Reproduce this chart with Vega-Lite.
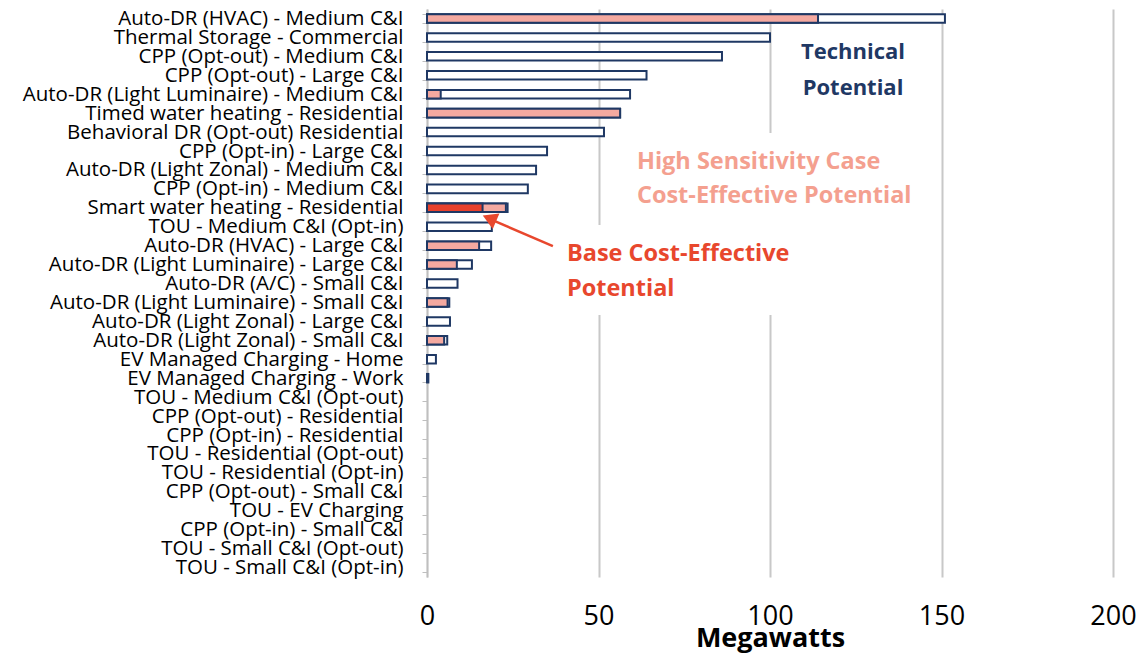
{
  "$schema": "https://vega.github.io/schema/vega-lite/v6.json",
  "width": 686,
  "height": 568,
  "autosize": {"type": "none"},
  "padding": {"left": 427, "top": 9, "right": 28, "bottom": 77},
  "background": "white",
  "config": {"view": {"stroke": null}, "font": "Open Sans"},
  "resolve": {"scale": {"y": "independent"}},
  "layer": [
    {
      "data": {"values": [
        {"program": "Auto-DR (HVAC) - Medium C&I", "technical": 151, "high": 114, "base": null},
        {"program": "Thermal Storage - Commercial", "technical": 100, "high": null, "base": null},
        {"program": "CPP (Opt-out) - Medium C&I", "technical": 86, "high": null, "base": null},
        {"program": "CPP (Opt-out) - Large C&I", "technical": 64, "high": null, "base": null},
        {"program": "Auto-DR (Light Luminaire) - Medium C&I", "technical": 59.2, "high": 4, "base": null},
        {"program": "Timed water heating - Residential", "technical": 56.3, "high": 56.3, "base": null},
        {"program": "Behavioral DR (Opt-out) Residential", "technical": 51.6, "high": null, "base": null},
        {"program": "CPP (Opt-in) - Large C&I", "technical": 35, "high": null, "base": null},
        {"program": "Auto-DR (Light Zonal) - Medium C&I", "technical": 31.8, "high": null, "base": null},
        {"program": "CPP (Opt-in) - Medium C&I", "technical": 29.4, "high": null, "base": null},
        {"program": "Smart water heating - Residential", "technical": 23.5, "high": 23, "base": 16.2},
        {"program": "TOU - Medium C&I (Opt-in)", "technical": 18.9, "high": null, "base": null},
        {"program": "Auto-DR (HVAC) - Large C&I", "technical": 18.7, "high": 15.2, "base": null},
        {"program": "Auto-DR (Light Luminaire) - Large C&I", "technical": 13.1, "high": 8.7, "base": null},
        {"program": "Auto-DR (A/C) - Small C&I", "technical": 8.9, "high": null, "base": null},
        {"program": "Auto-DR (Light Luminaire) - Small C&I", "technical": 6.5, "high": 6, "base": null},
        {"program": "Auto-DR (Light Zonal) - Large C&I", "technical": 6.7, "high": null, "base": null},
        {"program": "Auto-DR (Light Zonal) - Small C&I", "technical": 5.9, "high": 5, "base": null},
        {"program": "EV Managed Charging - Home", "technical": 2.6, "high": null, "base": null},
        {"program": "EV Managed Charging - Work", "technical": 0.4, "high": null, "base": null},
        {"program": "TOU - Medium C&I (Opt-out)", "technical": null, "high": null, "base": null},
        {"program": "CPP (Opt-out) - Residential", "technical": null, "high": null, "base": null},
        {"program": "CPP (Opt-in) - Residential", "technical": null, "high": null, "base": null},
        {"program": "TOU - Residential (Opt-out)", "technical": null, "high": null, "base": null},
        {"program": "TOU - Residential (Opt-in)", "technical": null, "high": null, "base": null},
        {"program": "CPP (Opt-out) - Small C&I", "technical": null, "high": null, "base": null},
        {"program": "TOU - EV Charging", "technical": null, "high": null, "base": null},
        {"program": "CPP (Opt-in) - Small C&I", "technical": null, "high": null, "base": null},
        {"program": "TOU - Small C&I (Opt-out)", "technical": null, "high": null, "base": null},
        {"program": "TOU - Small C&I (Opt-in)", "technical": null, "high": null, "base": null}
      ]},
      "encoding": {
        "y": {
          "field": "program", "type": "nominal", "sort": null,
          "scale": {
            "paddingInner": 0.55, "paddingOuter": 0.275,
            "domain": [
              "Auto-DR (HVAC) - Medium C&I", "Thermal Storage - Commercial", "CPP (Opt-out) - Medium C&I",
              "CPP (Opt-out) - Large C&I", "Auto-DR (Light Luminaire) - Medium C&I", "Timed water heating - Residential",
              "Behavioral DR (Opt-out) Residential", "CPP (Opt-in) - Large C&I", "Auto-DR (Light Zonal) - Medium C&I",
              "CPP (Opt-in) - Medium C&I", "Smart water heating - Residential", "TOU - Medium C&I (Opt-in)",
              "Auto-DR (HVAC) - Large C&I", "Auto-DR (Light Luminaire) - Large C&I", "Auto-DR (A/C) - Small C&I",
              "Auto-DR (Light Luminaire) - Small C&I", "Auto-DR (Light Zonal) - Large C&I", "Auto-DR (Light Zonal) - Small C&I",
              "EV Managed Charging - Home", "EV Managed Charging - Work", "TOU - Medium C&I (Opt-out)",
              "CPP (Opt-out) - Residential", "CPP (Opt-in) - Residential", "TOU - Residential (Opt-out)",
              "TOU - Residential (Opt-in)", "CPP (Opt-out) - Small C&I", "TOU - EV Charging",
              "CPP (Opt-in) - Small C&I", "TOU - Small C&I (Opt-out)", "TOU - Small C&I (Opt-in)"
            ]
          },
          "axis": {
            "title": null, "labelFontSize": 20.5, "labelColor": "#000000", "labelFont": "Open Sans",
            "labelLimit": 0, "labelPadding": 19, "tickSize": 5, "tickBand": "extent",
            "tickColor": "#bfbfbf", "domainColor": "#bfbfbf", "domainWidth": 1.5, "grid": false
          }
        }
      },
      "layer": [
        {
          "mark": {"type": "bar", "fill": "#ffffff", "stroke": "#1f3864", "strokeWidth": 2},
          "encoding": {
            "x": {
              "field": "technical", "type": "quantitative", "title": "Megawatts",
              "scale": {"domain": [0, 200], "nice": false},
              "axis": {
                "values": [0, 50, 100, 150, 200], "grid": true, "gridColor": "#c8c8c8", "gridWidth": 2,
                "domain": false, "ticks": false, "tickSize": 0, "labelFontSize": 27, "labelColor": "#000000",
                "labelFlush": false, "labelPadding": 26, "titleFontSize": 27, "titleFontWeight": "bold",
                "titleColor": "#000000", "titlePadding": -4
              }
            }
          }
        },
        {
          "mark": {"type": "bar", "fill": "#f4a9a0", "stroke": "#1f3864", "strokeWidth": 2},
          "encoding": {"x": {"field": "high", "type": "quantitative", "title": "Megawatts"}}
        },
        {
          "mark": {"type": "bar", "fill": "#e8412c", "stroke": "#1f3864", "strokeWidth": 2},
          "encoding": {"x": {"field": "base", "type": "quantitative", "title": "Megawatts"}}
        }
      ]
    },
    {
      "encoding": {
        "y": {"type": "quantitative", "scale": {"domain": [0, 30], "reverse": true, "nice": false, "zero": false}, "axis": null}
      },
      "layer": [
        {
          "data": {"values": [
            {"x1": 60, "x2": 140, "y1": 6.55, "y2": 11.41},
            {"x1": 37, "x2": 108, "y1": 11.41, "y2": 16.16}
          ]},
          "mark": {"type": "rect", "fill": "#ffffff"},
          "encoding": {
            "x": {"field": "x1", "type": "quantitative", "title": "Megawatts"},
            "x2": {"field": "x2"},
            "y": {"field": "y1", "type": "quantitative"},
            "y2": {"field": "y2"}
          }
        },
        {
          "data": {"values": [{"x1": 36.7, "y1": 12.52, "x2": 18.4, "y2": 11.1}]},
          "mark": {"type": "rule", "color": "#e8472d", "strokeWidth": 2.5},
          "encoding": {
            "x": {"field": "x1", "type": "quantitative", "title": "Megawatts"},
            "x2": {"field": "x2"},
            "y": {"field": "y1", "type": "quantitative"},
            "y2": {"field": "y2"}
          }
        },
        {
          "data": {"values": [{"x": 18.2, "y": 11.06}]},
          "mark": {"type": "point", "shape": "triangle-up", "filled": true, "color": "#e8472d", "size": 280, "angle": 293.5, "opacity": 1},
          "encoding": {
            "x": {"field": "x", "type": "quantitative", "title": "Megawatts"},
            "y": {"field": "y", "type": "quantitative"}
          }
        },
        {
          "data": {"values": [
            {"label": "Technical", "x": 124.2, "y": 2.27},
            {"label": "Potential", "x": 124.2, "y": 4.17}
          ]},
          "mark": {"type": "text", "align": "center", "baseline": "middle", "fontSize": 22, "fontWeight": "bold", "color": "#1f3864", "font": "Open Sans"},
          "encoding": {
            "x": {"field": "x", "type": "quantitative", "title": "Megawatts"},
            "y": {"field": "y", "type": "quantitative"},
            "text": {"field": "label"}
          }
        },
        {
          "data": {"values": [
            {"label": "High Sensitivity Case", "x": 61.2, "y": 8.08},
            {"label": "Cost-Effective Potential", "x": 61.2, "y": 9.88}
          ]},
          "mark": {"type": "text", "align": "left", "baseline": "middle", "fontSize": 23.5, "fontWeight": "bold", "color": "#f4a08f", "font": "Open Sans"},
          "encoding": {
            "x": {"field": "x", "type": "quantitative", "title": "Megawatts"},
            "y": {"field": "y", "type": "quantitative"},
            "text": {"field": "label"}
          }
        },
        {
          "data": {"values": [
            {"label": "Base Cost-Effective", "x": 40.8, "y": 12.94},
            {"label": "Potential", "x": 40.8, "y": 14.79}
          ]},
          "mark": {"type": "text", "align": "left", "baseline": "middle", "fontSize": 23.5, "fontWeight": "bold", "color": "#e8472d", "font": "Open Sans"},
          "encoding": {
            "x": {"field": "x", "type": "quantitative", "title": "Megawatts"},
            "y": {"field": "y", "type": "quantitative"},
            "text": {"field": "label"}
          }
        }
      ]
    }
  ]
}
